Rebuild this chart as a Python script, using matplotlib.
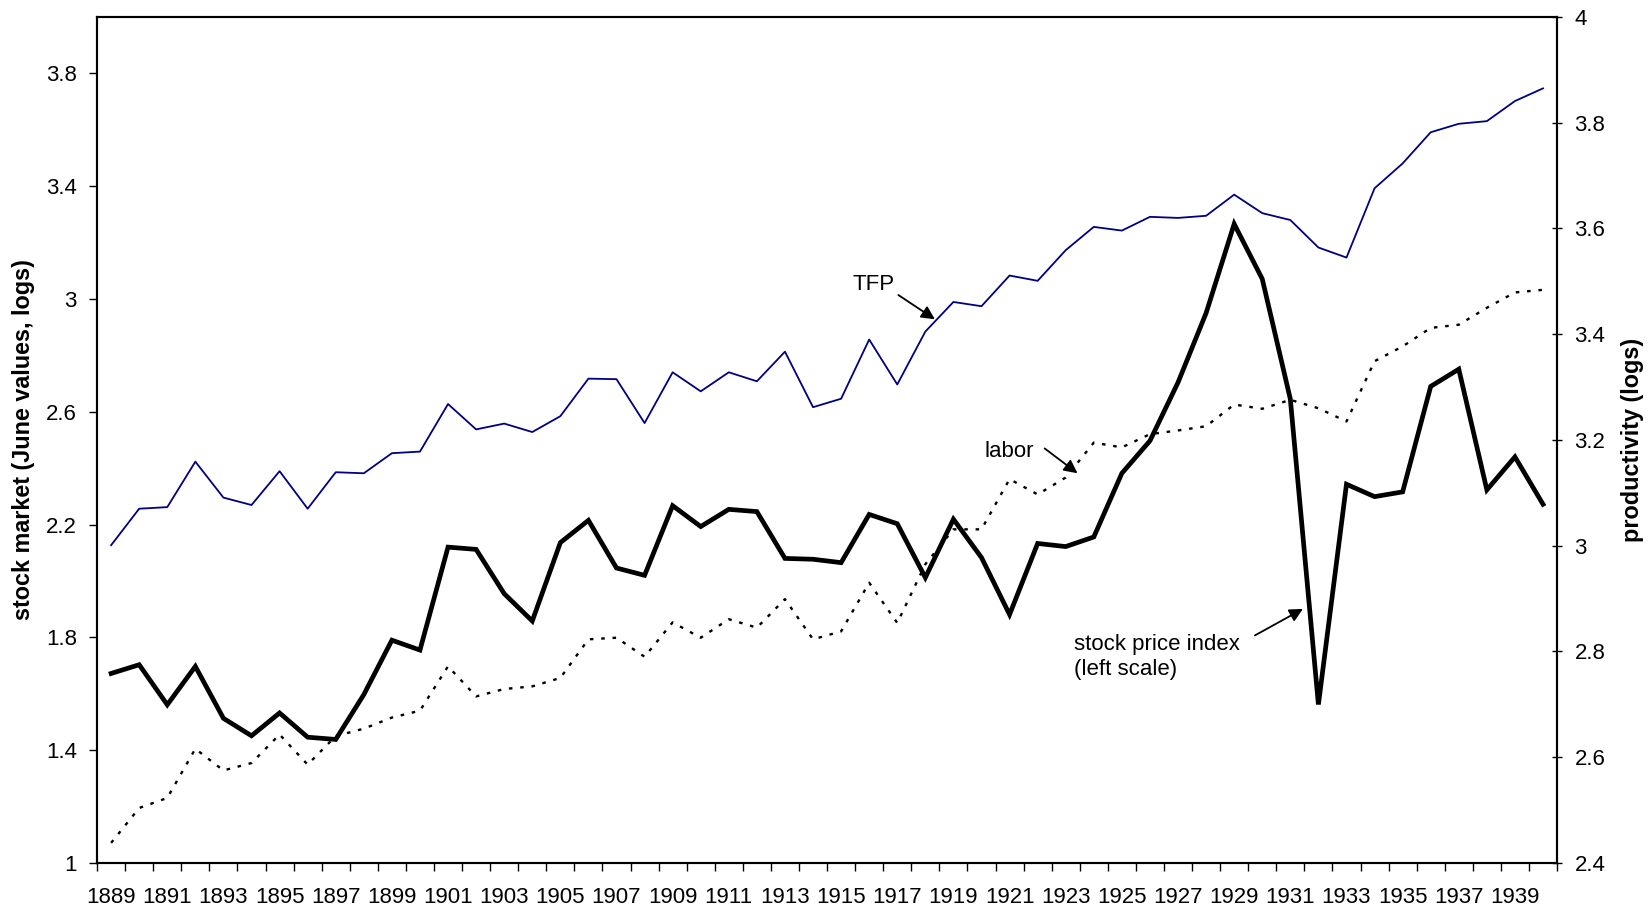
import numpy as np
import matplotlib.pyplot as plt
from matplotlib.ticker import FixedLocator, FuncFormatter

# =========================================================
# Datos
# =========================================================

YEARS = list(range(1889, 1941))

STOCK_PRICE = [
    1.672, 1.703, 1.561, 1.697, 1.513, 1.451, 1.532, 1.446, 1.438, 1.597,
    1.790, 1.755, 2.120, 2.112, 1.955, 1.858, 2.136, 2.215, 2.046, 2.020,
    2.267, 2.193, 2.254, 2.246, 2.080, 2.077, 2.065, 2.236, 2.203, 2.012,
    2.219, 2.083, 1.881, 2.133, 2.122, 2.156, 2.382, 2.497, 2.704, 2.950,
    3.266, 3.071, 2.645, 1.562, 2.343, 2.299, 2.316, 2.690, 2.751, 2.323,
    2.440, 2.272,
]

TFP = [
    3.001, 3.070, 3.073, 3.159, 3.091, 3.077, 3.141, 3.070, 3.139, 3.137,
    3.175, 3.178, 3.268, 3.220, 3.231, 3.215, 3.245, 3.316, 3.315, 3.232,
    3.328, 3.292, 3.328, 3.311, 3.367, 3.262, 3.278, 3.390, 3.305, 3.405,
    3.461, 3.453, 3.511, 3.501, 3.559, 3.603, 3.596, 3.622, 3.620, 3.624,
    3.664, 3.629, 3.616, 3.564, 3.545, 3.676, 3.723, 3.782, 3.798, 3.803,
    3.841, 3.865,
]

LABOR = [
    2.438, 2.504, 2.523, 2.616, 2.575, 2.589, 2.643, 2.586, 2.640, 2.654,
    2.675, 2.688, 2.772, 2.715, 2.729, 2.734, 2.750, 2.823, 2.826, 2.790,
    2.855, 2.826, 2.861, 2.845, 2.899, 2.823, 2.838, 2.930, 2.854, 2.965,
    3.031, 3.031, 3.126, 3.097, 3.129, 3.195, 3.186, 3.211, 3.218, 3.226,
    3.267, 3.259, 3.276, 3.260, 3.235, 3.349, 3.377, 3.412, 3.418, 3.450,
    3.479, 3.484,
]

LEFT_TICKS = [1.0, 1.4, 1.8, 2.2, 2.6, 3.0, 3.4, 3.8]
RIGHT_TICKS = [2.4, 2.6, 2.8, 3.0, 3.2, 3.4, 3.6, 3.8, 4.0]
YEAR_LABELS = list(range(1889, 1940, 2))

# =========================================================
# Estilo
# =========================================================

plt.rcParams["font.family"] = ["Liberation Sans", "DejaVu Sans"]
FS = 16
FS_LABEL = 16.8

fig = plt.figure(figsize=(16.51, 9.13), dpi=100)
ax = fig.add_axes([0.0588, 0.0548, 0.8843, 0.9266])
ax2 = ax.twinx()

# =========================================================
# Series
# =========================================================

ax2.plot(YEARS, TFP, color="#000080", lw=1.3, zorder=2)
ax2.plot(YEARS, LABOR, color="black", lw=1.7,
         linestyle=(0, (1.5, 3.3)), zorder=2)
ax.plot(YEARS, STOCK_PRICE, color="black", lw=3.4,
        solid_joinstyle="miter", zorder=3)

# twin axes on top -> stock line must be above
ax.set_zorder(ax2.get_zorder() + 1)
ax.patch.set_visible(False)

# =========================================================
# Ejes
# =========================================================

ax.set_xlim(1888.5, 1940.5)
ax.set_ylim(1.0, 4.0)
ax2.set_ylim(2.4, 4.0)

fmt = FuncFormatter(lambda v, _: f"{v:g}")

ax.yaxis.set_major_locator(FixedLocator(LEFT_TICKS))
ax.yaxis.set_major_formatter(fmt)
ax2.yaxis.set_major_locator(FixedLocator(RIGHT_TICKS))
ax2.yaxis.set_major_formatter(fmt)

ax.set_xticks(YEAR_LABELS)
ax.set_xticklabels([str(y) for y in YEAR_LABELS])
ax.xaxis.set_minor_locator(FixedLocator(np.arange(1888.5, 1941, 1.0)))

ax.tick_params(axis="x", which="major", length=0, pad=17, labelsize=FS)
ax.tick_params(axis="x", which="minor", length=6, width=1.0,
               direction="out")
ax.tick_params(axis="y", which="major", length=5.5, width=1.0,
               direction="out", pad=9, labelsize=FS)
ax2.tick_params(axis="y", which="major", length=7, width=1.0,
                direction="inout", pad=9, labelsize=FS)

for a in (ax, ax2):
    for sp in a.spines.values():
        sp.set_linewidth(1.5)
        sp.set_color("black")

ax.set_ylabel("stock market (June values, logs)", fontsize=FS_LABEL,
              fontweight="bold")
ax.yaxis.set_label_coords(-0.0425, 0.5)
ax2.set_ylabel("productivity (logs)", fontsize=FS_LABEL, fontweight="bold")
ax2.yaxis.set_label_coords(1.0435, 0.5)

# =========================================================
# Anotaciones
# =========================================================

arrow = dict(arrowstyle="-|>", color="black", lw=1.3,
             mutation_scale=20, shrinkA=0, shrinkB=0)

ax.text(1915.41, 3.053, "TFP", fontsize=FS, ha="left", va="center")
ax.annotate("", xy=(1918.34, 2.928), xytext=(1917.04, 3.014),
            arrowprops=arrow)

ax.text(1920.09, 2.458, "labor", fontsize=FS, ha="left", va="center")
ax.annotate("", xy=(1923.42, 2.382), xytext=(1922.25, 2.470),
            arrowprops=arrow)

ax.text(1923.29, 1.730, "stock price index\n(left scale)", fontsize=FS,
        ha="left", va="center", linespacing=1.25)
ax.annotate("", xy=(1931.45, 1.901), xytext=(1929.74, 1.807),
            arrowprops=arrow)

fig.savefig("out.png", dpi=100)
